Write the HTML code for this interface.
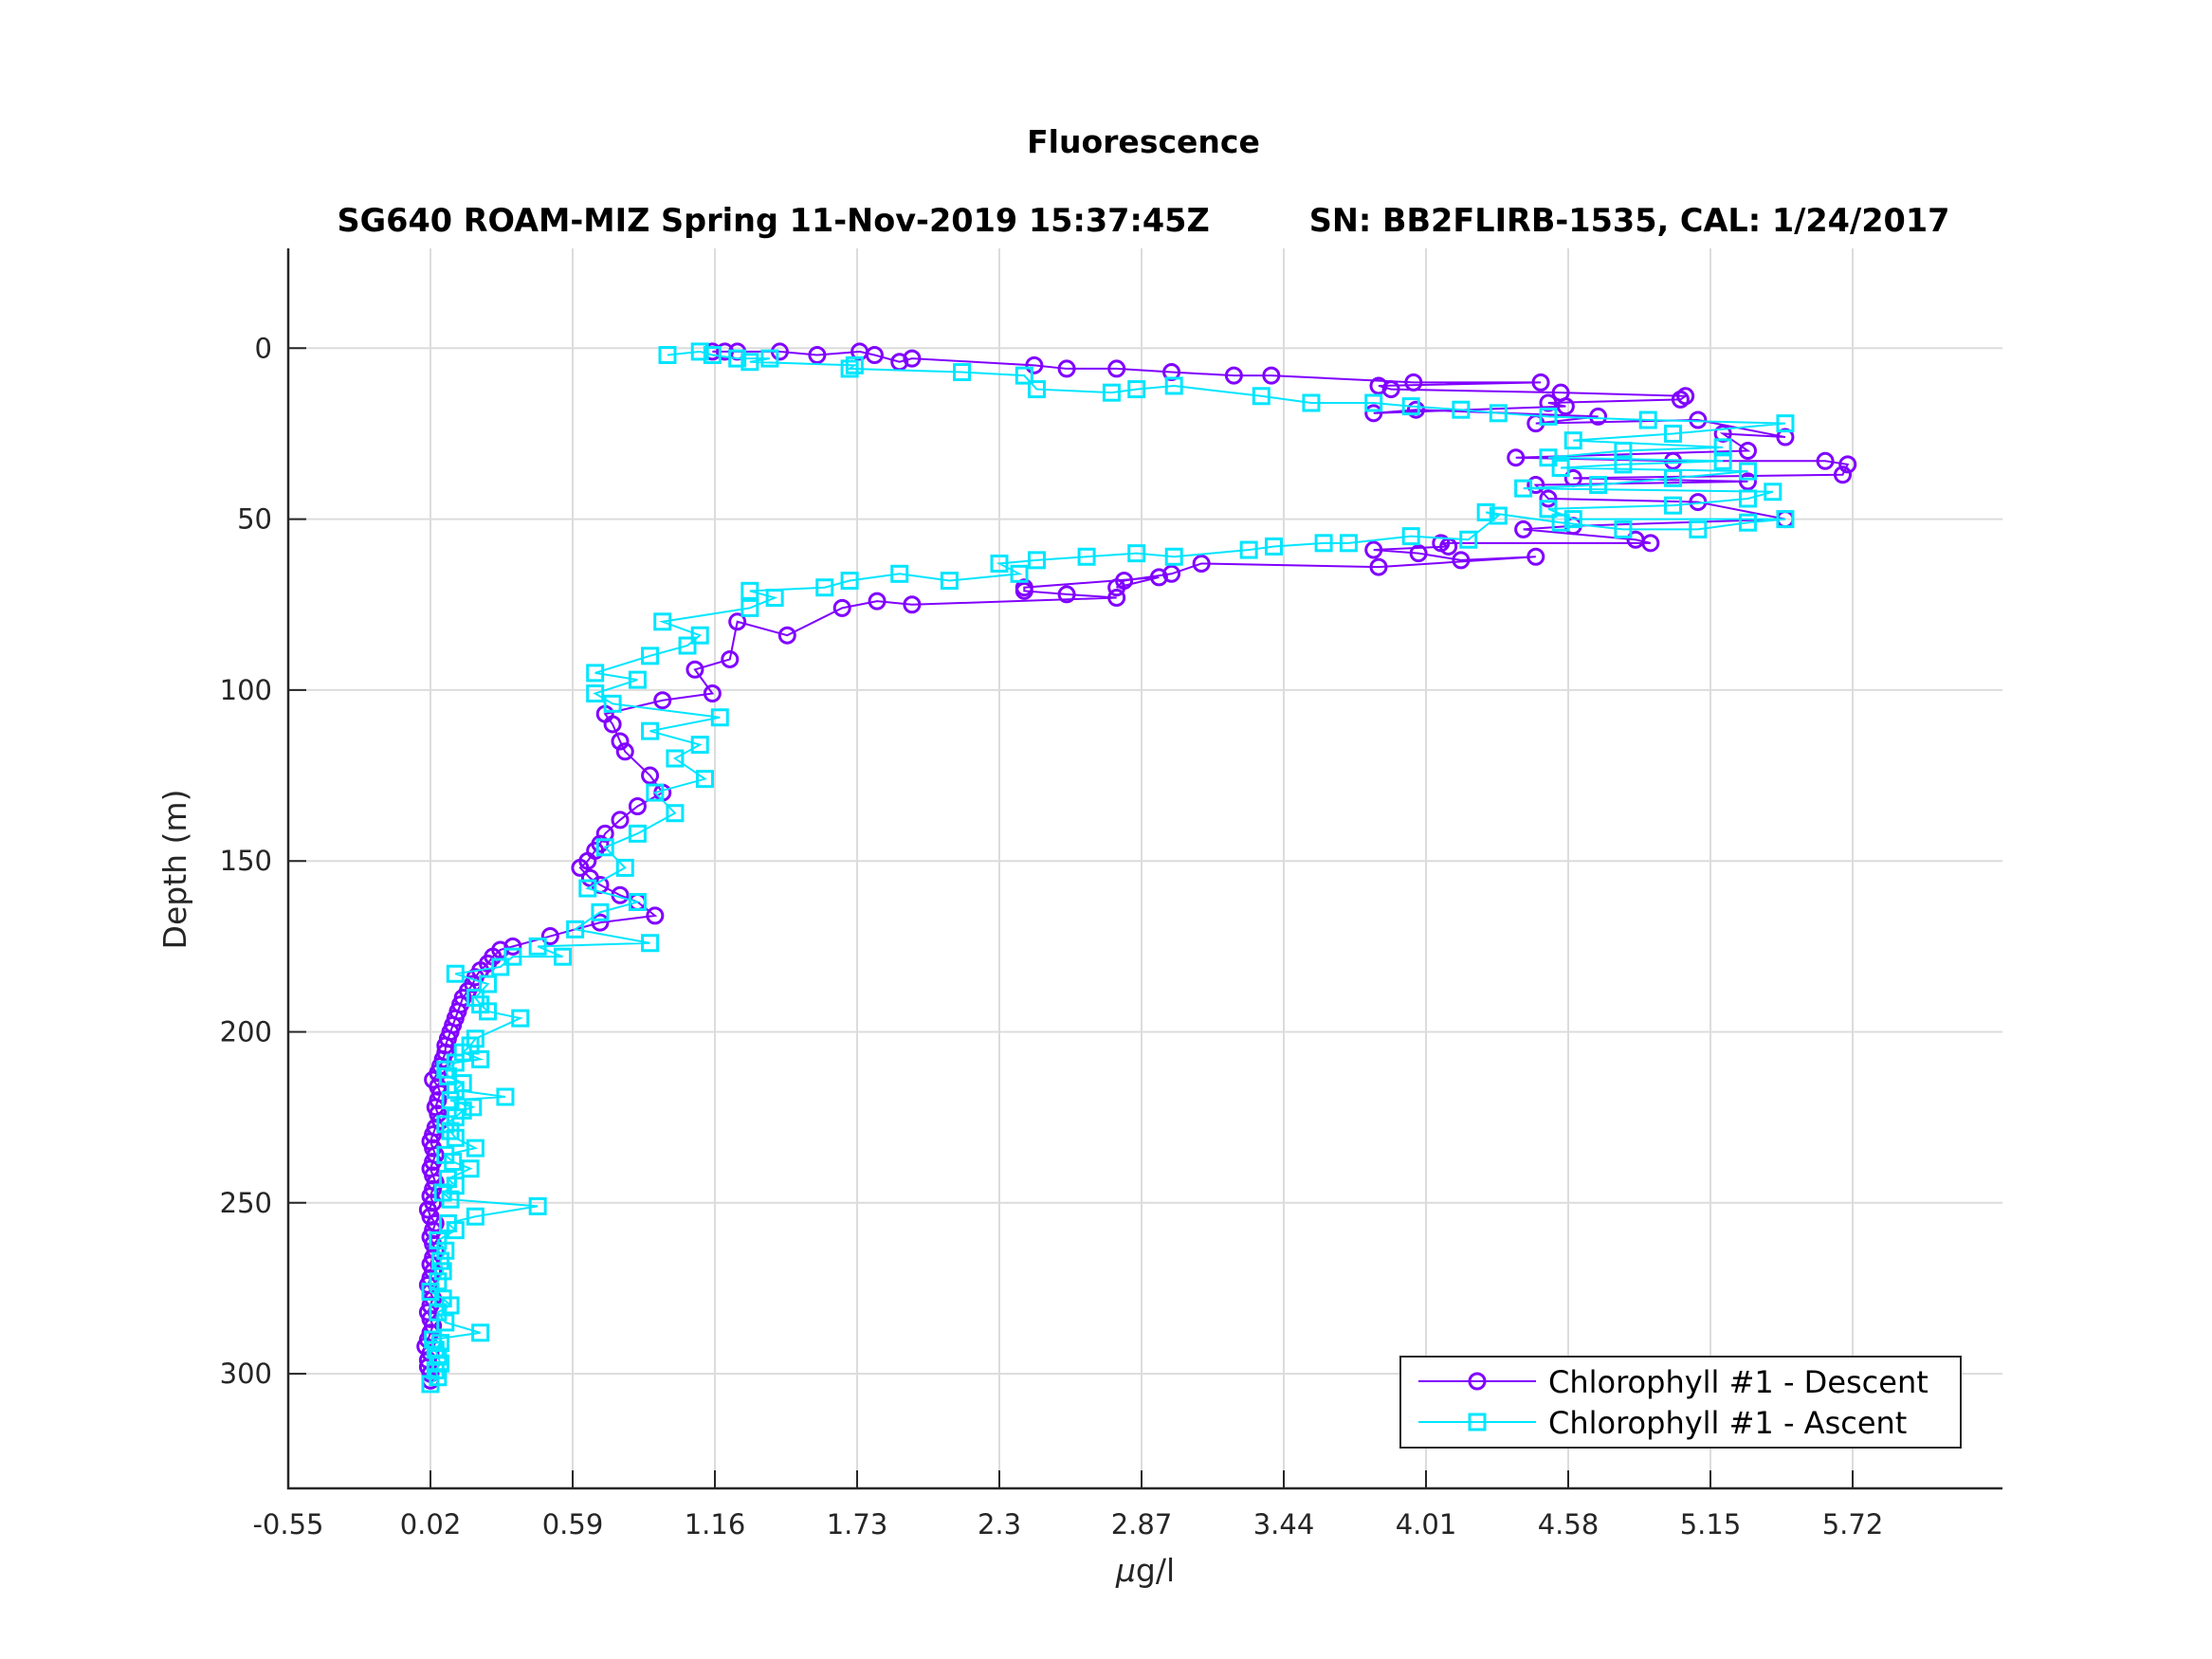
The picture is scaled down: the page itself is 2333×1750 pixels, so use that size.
<!DOCTYPE html>
<html><head><meta charset="utf-8"><style>
body{margin:0;background:#fff}
svg{display:block;font-family:"DejaVu Sans","Liberation Sans",sans-serif}
</style></head><body>
<svg id="chart" width="2333" height="1750" viewBox="0 0 2333 1750" xmlns="http://www.w3.org/2000/svg">
<rect width="2333" height="1750" fill="#fff"/>
<text x="1206" y="161" text-anchor="middle" font-size="33" font-weight="bold">Fluorescence</text>
<text x="1206" y="244" text-anchor="middle" font-size="33.5" font-weight="bold" xml:space="preserve">SG640 ROAM-MIZ Spring 11-Nov-2019 15:37:45Z         SN: BB2FLIRB-1535, CAL: 1/24/2017</text>
<g id="grid"></g>
<g id="series"></g>
<g id="axes"></g>
<text transform="translate(196,917) rotate(-90)" text-anchor="middle" font-size="33" fill="#262626">Depth (m)</text>
<text x="1208" y="1668" text-anchor="middle" font-size="33" fill="#262626"><tspan font-style="italic">μ</tspan>g/l</text>
<g>
<rect x="1477" y="1431" width="591" height="96" fill="#fff" stroke="#262626" stroke-width="2"/>
<line x1="1496" y1="1457" x2="1620" y2="1457" stroke="#8000ff" stroke-width="2"/>
<circle cx="1558" cy="1457" r="8" fill="none" stroke="#8000ff" stroke-width="3"/>
<text x="1633" y="1469" font-size="32" fill="#000">Chlorophyll #1 - Descent</text>
<line x1="1496" y1="1500" x2="1620" y2="1500" stroke="#00e5ff" stroke-width="2"/>
<rect x="1550" y="1492" width="16" height="16" fill="none" stroke="#00e5ff" stroke-width="3"/>
<text x="1633" y="1512" font-size="32" fill="#000">Chlorophyll #1 - Ascent</text>
</g>
</svg>
<script>
const xTicks = [-0.55,0.02,0.59,1.16,1.73,2.3,2.87,3.44,4.01,4.58,5.15,5.72];
const yTicks = [0,50,100,150,200,250,300];
const descentX = [1.15,1.2,1.25,1.42,1.57,1.74,1.80,1.90,1.95,2.44,2.57,2.77,2.99,3.24,3.39,3.96,4.47,3.82,3.87,4.55,5.05,5.03,4.5,4.57,3.80,3.97,4.7,4.45,5.1,5.45,5.2,5.3,4.37,5.0,5.61,5.70,5.68,4.6,5.3,4.45,4.5,5.1,5.45,4.6,4.4,4.85,4.91,4.07,4.10,3.80,3.98,4.15,4.45,3.82,3.11,2.99,2.80,2.77,2.94,2.4,2.4,2.57,2.77,1.95,1.81,1.67,1.45,1.25,1.22,1.08,1.15,0.95,0.72,0.75,0.78,0.8,0.9,0.95,0.85,0.78,0.72,0.7,0.68,0.65,0.62,0.66,0.7,0.78,0.85,0.92,0.7,0.5,0.35,0.3,0.27,0.25,0.22,0.2,0.19,0.17,0.15,0.14,0.13,0.12,0.11,0.1,0.09,0.08,0.08,0.07,0.06,0.05,0.03,0.05,0.06,0.05,0.04,0.05,0.06,0.04,0.03,0.02,0.03,0.04,0.03,0.02,0.03,0.04,0.03,0.02,0.03,0.01,0.02,0.04,0.03,0.02,0.03,0.04,0.03,0.02,0.03,0.02,0.01,0.02,0.03,0.02,0.01,0.02,0.03,0.02,0.01,0.0,0.02,0.01,0.01,0.02,0.02];
const descentDepth = [1,1,1,1,2,1,2,4,3,5,6,6,7,8,8,10,10,11,12,13,14,15,16,17,19,18,20,22,21,26,25,30,32,33,33,34,37,38,39,40,44,45,50,52,53,56,57,57,58,59,60,62,61,64,63,66,68,70,67,70,71,72,73,75,74,76,84,80,91,94,101,103,107,110,115,118,125,130,134,138,142,145,147,150,152,155,157,160,162,166,168,172,175,176,178,180,182,184,186,188,190,192,194,196,198,200,202,204,206,208,210,212,214,216,218,220,222,224,226,228,230,232,234,236,238,240,242,244,246,248,250,252,254,256,258,260,262,264,266,268,270,272,274,276,278,280,282,284,286,288,290,292,294,296,298,300,302,303];
const ascentX = [0.02,0.05,0.04,0.06,0.05,0.04,0.06,0.03,0.22,0.08,0.05,0.1,0.07,0.02,0.05,0.07,0.06,0.08,0.05,0.12,0.09,0.2,0.45,0.1,0.07,0.12,0.09,0.18,0.11,0.08,0.2,0.12,0.1,0.08,0.12,0.15,0.19,0.1,0.32,0.12,0.15,0.09,0.08,0.12,0.22,0.15,0.18,0.2,0.38,0.25,0.22,0.2,0.25,0.12,0.3,0.35,0.55,0.45,0.9,0.6,0.7,0.85,0.65,0.8,0.72,0.85,1.0,0.92,1.12,1.0,1.1,0.9,1.18,0.75,0.68,0.85,0.68,0.9,1.05,1.1,0.95,1.3,1.4,1.3,1.6,1.7,1.9,2.1,2.38,2.3,2.45,2.65,2.85,3.0,3.3,3.4,3.6,3.7,3.95,4.18,4.3,4.25,4.55,4.8,5.1,5.3,5.45,4.6,4.5,5.0,5.3,5.4,4.4,4.7,5.0,5.3,4.55,4.8,5.2,4.5,4.8,5.2,4.6,5.0,5.45,4.9,4.5,4.3,4.15,3.95,3.8,3.55,3.35,3.0,2.85,2.75,2.45,2.4,2.15,1.7,1.72,1.3,1.38,1.25,1.15,1.1,0.97];
const ascentDepth = [303,301,299,297,295,293,291,290,288,285,282,280,278,276,273,270,267,264,261,258,256,254,251,249,247,245,243,240,238,236,234,231,229,227,225,223,222,220,219,217,215,213,211,209,208,206,204,202,196,194,192,190,186,183,181,178,178,175,174,170,165,162,158,152,146,142,136,130,126,120,116,112,108,104,101,97,95,90,87,84,80,76,73,71,70,68,66,68,66,63,62,61,60,61,59,58,57,57,55,56,49,48,51,53,53,51,50,50,47,46,44,42,41,40,38,36,35,34,33,32,30,29,27,25,22,21,20,19,18,17,16,16,14,11,12,13,12,8,7,6,5,4,3,3,2,1,2];

const L=304,R=2112,T=262,B=1570;
const xMin=-0.55, pxPerX=150/0.57;
const y0=367.3, pxPerY=180.3/50;
function sx(v){return L+(v-xMin)*pxPerX;}
function sy(v){return y0+v*pxPerY;}
const NS='http://www.w3.org/2000/svg';
function mk(tag,attrs,parent){const e=document.createElementNS(NS,tag);for(const k in attrs)e.setAttribute(k,attrs[k]);parent.appendChild(e);return e;}
const grid=document.getElementById('grid'), axes=document.getElementById('axes'), ser=document.getElementById('series');
xTicks.forEach(t=>{
  const x=sx(t);
  const g=mk('line',{x1:x,y1:T,x2:x,y2:B,stroke:'#dcdcdc','stroke-width':2},grid);
  
  
  const tk=mk('line',{x1:x,y1:B,x2:x,y2:B-19,stroke:'#262626','stroke-width':2},axes);
  
  
  const lb=mk('text',{x:x,y:B+48,'text-anchor':'middle','font-size':'29',fill:'#262626'},axes);
  lb.textContent=String(t);
  
  
});
yTicks.forEach(t=>{
  const y=sy(t);
  const g=mk('line',{x1:L,y1:y,x2:R,y2:y,stroke:'#dcdcdc','stroke-width':2},grid);
  
  
  const tk=mk('line',{x1:L,y1:y,x2:L+19,y2:y,stroke:'#262626','stroke-width':2},axes);
  
  
  const lb=mk('text',{x:L-17,y:y+10,'text-anchor':'end','font-size':'29',fill:'#262626'},axes);
  lb.textContent=String(t);
  
  
});
const ax=mk('path',{d:`M${L},${T}V${B}H${R}`,fill:'none',stroke:'#262626','stroke-width':2.5},axes);



function drawSeries(xs,ds,color,shape,name){
  const pts=xs.map((v,i)=>sx(v)+','+sy(ds[i])).join(' ');
  const pl=mk('polyline',{points:pts,fill:'none',stroke:color,'stroke-width':2},ser);
  
  
  xs.forEach((v,i)=>{
    let m;
    if(shape==='circle') m=mk('circle',{cx:sx(v),cy:sy(ds[i]),r:8,fill:'none',stroke:color,'stroke-width':3},ser);
    else m=mk('rect',{x:sx(v)-8,y:sy(ds[i])-8,width:16,height:16,fill:'none',stroke:color,'stroke-width':3},ser);
    
    
  });
}
drawSeries(descentX,descentDepth,'#8000ff','circle','descent');
drawSeries(ascentX,ascentDepth,'#00e5ff','square','ascent');
</script>
</body></html>
